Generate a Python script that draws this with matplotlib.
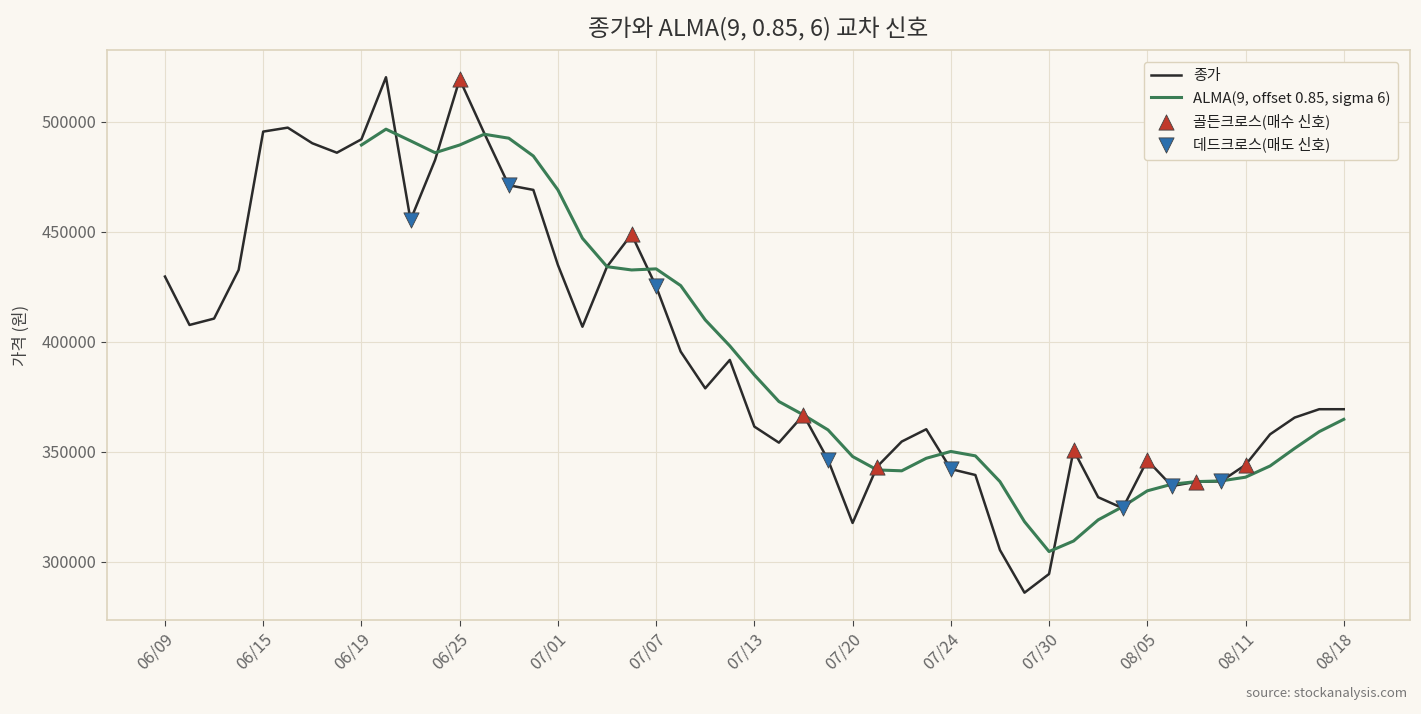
import matplotlib
matplotlib.use("Agg")
import matplotlib.pyplot as plt

plt.rcParams['font.family'] = ['Noto Sans CJK KR', 'DejaVu Sans']

# closing prices (trading days)
close = [429700, 407700, 410600, 432700, 495600, 497400, 490300, 486000, 492100, 520300,
         455400, 482700, 519400, 494900, 471200, 469100, 435000, 406900, 434200, 448900,
         425200, 395600, 378900, 391800, 361500, 354200, 366800, 346400, 317700, 343300,
         354700, 360300, 342200, 339500, 305400, 286000, 294500, 350800, 329400, 324400,
         346200, 334500, 336400, 336600, 344100, 358000, 365600, 369400, 369400]

# ALMA(9, 0.85, 6) starts at the 9th bar
alma_start = 8
alma = [489500, 496700, 491400, 486000, 489500, 494400, 492600, 484500, 469100, 447100,
        434200, 432700, 433200, 425600, 410000, 398200, 385000, 372900, 366800, 360000,
        347900, 341800, 341400, 347100, 350200, 348200, 336500, 318300, 304700, 309500,
        319100, 325100, 332300, 335300, 336500, 336800, 338500, 343600, 351600, 359200,
        364800]

buy_idx = [12, 19, 26, 29, 37, 40, 42, 44]
sell_idx = [10, 14, 20, 27, 32, 39, 41, 43]

tick_pos = [0, 4, 8, 12, 16, 20, 24, 28, 32, 36, 40, 44, 48]
tick_labels = ['06/09', '06/15', '06/19', '06/25', '07/01', '07/07', '07/13',
               '07/20', '07/24', '07/30', '08/05', '08/11', '08/18']

bg = '#faf7f1'
fig = plt.figure(figsize=(14.21, 7.14), dpi=100, facecolor=bg)
ax = fig.add_axes([0.0753, 0.1317, 0.917, 0.7983])
ax.set_facecolor(bg)

x = list(range(len(close)))
x_alma = list(range(alma_start, alma_start + len(alma)))

ax.plot(x, close, color='#2b2b2b', lw=1.8, label='종가', zorder=3)
ax.plot(x_alma, alma, color='#3a7d55', lw=2.2, label='ALMA(9, offset 0.85, sigma 6)', zorder=3)

ax.scatter(buy_idx, [close[i] for i in buy_idx], marker='^', s=120, color='#c0392b',
           edgecolor='#444444', linewidth=0.6, label='골든크로스(매수 신호)', zorder=5)
ax.scatter(sell_idx, [close[i] for i in sell_idx], marker='v', s=120, color='#2c6fad',
           edgecolor='#444444', linewidth=0.6, label='데드크로스(매도 신호)', zorder=5)

ax.set_xlim(-2.36, 50.7)
ax.set_ylim(273600, 532700)
ax.set_xticks(tick_pos)
ax.set_xticklabels(tick_labels, rotation=45, ha='right', rotation_mode='anchor')
ax.set_yticks([300000, 350000, 400000, 450000, 500000])
ax.set_yticklabels(['300000', '350000', '400000', '450000', '500000'])
ax.tick_params(labelsize=11.8, labelcolor='#666666', color='#444444', length=4, pad=4)

ax.grid(True, color='#e6dfcf', lw=0.8)
ax.set_axisbelow(True)
for sp in ax.spines.values():
    sp.set_color('#dcd3bd')
    sp.set_linewidth(1.2)

ax.set_ylabel('가격 (원)', fontsize=12, color='#444444', labelpad=8)
ax.set_title('종가와 ALMA(9, 0.85, 6) 교차 신호', fontsize=17, color='#333333', pad=10)

leg = ax.legend(loc='upper right', fontsize=10.8, frameon=True, facecolor=bg,
                edgecolor='#dcd3bd', framealpha=1, borderpad=0.5, borderaxespad=0.8)
for t in leg.get_texts():
    t.set_color('#222222')

fig.text(0.99, 0.02, 'source: stockanalysis.com', ha='right', va='bottom',
         fontsize=9.5, color='#777777')

fig.savefig('out.png', dpi=100, facecolor=bg)
